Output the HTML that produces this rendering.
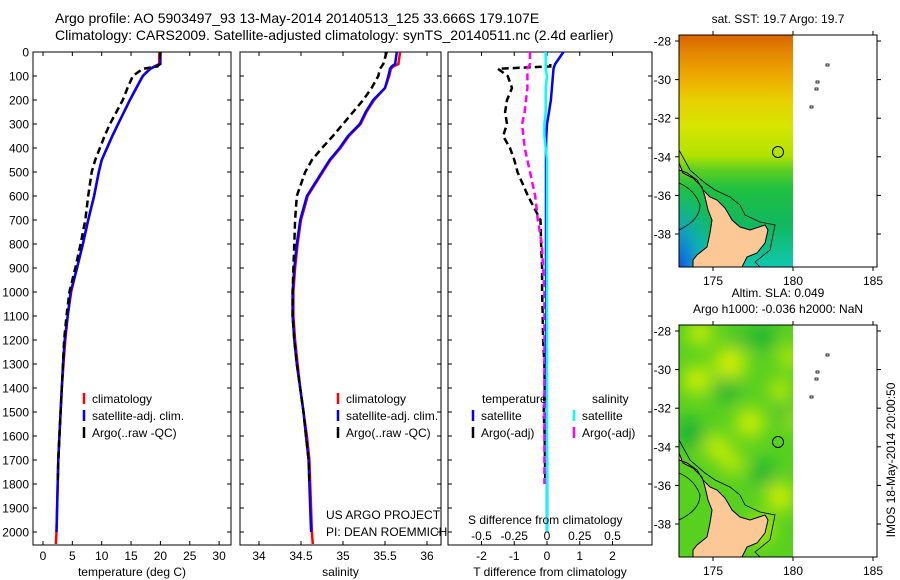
<!DOCTYPE html>
<html><head><meta charset="utf-8"><style>
html,body{margin:0;padding:0;background:#fff;}
svg{display:block;font-family:"Liberation Sans",sans-serif;}
text{font-size:12px;fill:#000;}
</style></head><body>
<svg id="fig" width="900" height="580" viewBox="0 0 900 580">
<defs>
<linearGradient id="sstGrad" x1="0" y1="0" x2="0" y2="1">
<stop offset="0" stop-color="#d86400"/><stop offset="0.08" stop-color="#e48800"/>
<stop offset="0.18" stop-color="#eeaa00"/><stop offset="0.28" stop-color="#e8d000"/>
<stop offset="0.40" stop-color="#d4e600"/><stop offset="0.52" stop-color="#b0e200"/>
<stop offset="0.58" stop-color="#60d020"/><stop offset="0.66" stop-color="#20c040"/>
<stop offset="0.82" stop-color="#10b860"/><stop offset="1" stop-color="#10c8b0"/>
</linearGradient>
<radialGradient id="blueCorner" cx="0" cy="1" r="0.35">
<stop offset="0" stop-color="#1050e8"/><stop offset="0.5" stop-color="#10a0d0" stop-opacity="0.7"/><stop offset="1" stop-color="#10c0b0" stop-opacity="0"/>
</radialGradient>
<filter id="blur"><feGaussianBlur stdDeviation="9"/></filter>
<clipPath id="clipTop"><rect x="679" y="35" width="114" height="232"/></clipPath>
<clipPath id="clipBot"><rect x="679" y="325" width="114" height="232"/></clipPath>
</defs>
<text x="55" y="23" style="font-size:14px">Argo profile: AO 5903497_93 13-May-2014 20140513_125 33.666S 179.107E</text>
<text x="55" y="40" style="font-size:14px">Climatology: CARS2009. Satellite-adjusted climatology: synTS_20140511.nc (2.4d earlier)</text>
<g id="panels"></g>
<g id="maps"></g>
</svg>
<script>
// ---- data ----
const depths =      [0,50,60,70,100,150,200,250,300,350,400,450,500,600,700,800,900,1000,1100,1200,1300,1400,1500,1600,1700,1800,1900,2000,2050];
const tempClim =    [19.8,19.8,19.0,18.2,17.0,15.9,14.8,13.8,12.8,11.8,10.9,10.0,9.5,8.7,7.7,6.8,5.8,4.8,4.2,3.8,3.5,3.2,3.0,2.8,2.6,2.5,2.4,2.3,2.2];
const tempSat =     [20.0,20.0,19.1,18.3,17.0,15.9,14.8,13.8,12.8,11.8,10.9,10.0,9.5,8.7,7.7,6.8,5.8,4.7,4.2,3.7,3.4,3.2,3.0,2.8,2.6,2.5,2.4,2.3,null];
const tempArgo =    [20.0,19.9,19.5,17.0,15.3,14.4,13.6,12.5,11.4,10.5,9.7,8.9,8.3,7.7,7.2,6.4,5.5,4.5,4.0,3.6,3.4,3.2,3.0,2.8,2.6,2.5,null,null,null];
const salClim =     [35.68,35.66,35.6,35.57,35.55,35.5,35.37,35.28,35.21,35.07,34.97,34.85,34.76,34.58,34.5,34.46,34.43,34.41,34.41,34.43,34.46,34.49,34.53,34.57,34.6,34.61,34.62,34.63,34.64];
const salSat =      [35.64,35.62,35.58,35.56,35.54,35.5,35.36,35.27,35.2,35.06,34.96,34.84,34.75,34.57,34.49,34.45,34.42,34.4,34.4,34.42,34.45,34.49,34.53,34.56,34.59,34.6,34.61,34.62,null];
const salArgo =     [35.52,35.48,35.46,35.44,35.42,35.34,35.24,35.12,35.0,34.88,34.75,34.63,34.55,34.45,34.43,34.42,34.41,34.4,34.4,34.42,34.45,34.49,34.53,34.56,34.59,34.6,null,null,null];
const tDiffSat =    [0.5,0.25,0.22,0.2,0.18,0.15,0.12,0.06,0.0,-0.02,-0.03,-0.03,-0.03,-0.03,-0.03,-0.03,-0.03,-0.02,-0.02,-0.02,-0.02,-0.01,-0.01,-0.01,0,0,0,0,null];
const tDiffArgo =   [null,0.1,0.1,-1.5,-1.2,-1.07,-1.22,-1.28,-1.22,-1.34,-1.13,-1.0,-0.9,-0.58,-0.2,-0.18,-0.15,-0.15,-0.13,-0.12,-0.08,-0.07,-0.1,-0.07,-0.06,-0.05,null,null,null];
const sDiffSat =    [-0.01,-0.01,-0.01,-0.01,0.0,-0.01,-0.01,-0.01,-0.02,-0.02,-0.01,0,0,0,0,0,0,0,0,0,0,0,0,0,0,0,0,0,null];
const sDiffArgo =   [-0.13,-0.13,-0.14,-0.15,-0.15,-0.15,-0.16,-0.17,-0.19,-0.18,-0.17,-0.15,-0.13,-0.09,-0.07,-0.04,-0.03,-0.02,-0.02,-0.02,-0.02,-0.02,-0.02,-0.02,-0.02,-0.02,null,null,null];
const depthTicks = [0,100,200,300,400,500,600,700,800,900,1000,1100,1200,1300,1400,1500,1600,1700,1800,1900,2000];
const tempTicks = [0,5,10,15,20,25,30];
const salTicks = [34,34.5,35,35.5,36];
const tDiffTicks = [-2,-1,0,1,2];
const sDiffTicks = [-0.5,-0.25,0,0.25,0.5];
const lonTicks = [175,180,185];
const latTicks = [-28,-30,-32,-34,-36,-38];

const NS="http://www.w3.org/2000/svg";
function mk(tag,attrs,parent,txt){const e=document.createElementNS(NS,tag);for(const k in attrs)e.setAttribute(k,attrs[k]);if(txt!==undefined)e.textContent=txt;parent.appendChild(e);return e;}
const yD = d => 52 + d*0.24;
const panelsG=document.getElementById('panels');

function panel(name,x0,x1,xs,ticks,tickFmt,xlabel,showY){
  const g=mk('g',{},panelsG);
  
  
  const r=mk('rect',{x:x0,y:52,width:x1-x0,height:493,fill:'none',stroke:'#000','stroke-width':1},g);
  
  
  ticks.forEach(t=>{const x=xs(t);
    mk('line',{x1:x,y1:52,x2:x,y2:56,stroke:'#000'},g);
    mk('line',{x1:x,y1:545,x2:x,y2:541,stroke:'#000'},g);
    const tl=mk('text',{x:x,y:560,'text-anchor':'middle'},g,tickFmt(t));
    
    
  });
  const xl=mk('text',{x:(x0+x1)/2,y:576,'text-anchor':'middle'},g,xlabel);
  
  
  depthTicks.forEach(d=>{const y=yD(d);
    mk('line',{x1:x0,y1:y,x2:x0+4,y2:y,stroke:'#000'},g);
    mk('line',{x1:x1,y1:y,x2:x1-4,y2:y,stroke:'#000'},g);
    if(showY){const t=mk('text',{x:29,y:y+4.5,'text-anchor':'end'},g,String(d));
      
      }
  });
  return g;
}
function series(g,name,vals,xs,color,dash,w){
  let d='';let pen=false;
  depths.forEach((dp,i)=>{const v=vals[i];if(v===null||v===undefined){pen=false;return;}
    d+=(pen?'L':'M')+xs(v).toFixed(1)+' '+yD(dp).toFixed(1)+' ';pen=true;});
  const p=mk('path',{d:d,fill:'none',stroke:color,'stroke-width':w||2.5,'stroke-dasharray':dash||'none'},g);
  
  
}
function legend(g,x,y,color,label){
  mk('line',{x1:x,y1:y-10,x2:x,y2:y+1,stroke:color,'stroke-width':2.5},g);
  const t=mk('text',{x:x+8,y:y},g,label);
  
  
}
// Panel 1
const xT=v=>43+v*5.87;
const p1=panel('temperature-panel',33,231,xT,tempTicks,String,'temperature (deg C)',true);
series(p1,'temp-climatology-line',tempClim,xT,'#f00');
series(p1,'temp-satellite-line',tempSat,xT,'#00f');
series(p1,'temp-argo-line',tempArgo,xT,'#000','7,4');
legend(p1,84,403,'#f00','climatology');legend(p1,84,420,'#00f','satellite-adj. clim.');legend(p1,84,437,'#000','Argo(..raw -QC)');
// Panel 2
const xS=v=>259+(v-34)*84;
const p2=panel('salinity-panel',240,441,xS,salTicks,String,'salinity',false);
series(p2,'sal-climatology-line',salClim,xS,'#f00');
series(p2,'sal-satellite-line',salSat,xS,'#00f');
series(p2,'sal-argo-line',salArgo,xS,'#000','7,4');
legend(p2,338,403,'#f00','climatology');legend(p2,338,420,'#00f','satellite-adj. clim.');legend(p2,338,437,'#000','Argo(..raw -QC)');
mk('text',{x:326,y:519},p2,'US ARGO PROJECT');mk('text',{x:326,y:536},p2,'PI: DEAN ROEMMICH');
// Panel 3
const xTd=v=>547+v*32.75;
const xSd=v=>547+v*131;
const p3=panel('difference-panel',448,652,xTd,tDiffTicks,String,'T difference from climatology',false);
series(p3,'tdiff-argo-line',tDiffArgo,xTd,'#000','7,4');
series(p3,'sdiff-argo-line',sDiffArgo,xSd,'#f0f','7,4');
series(p3,'tdiff-satellite-line',tDiffSat,xTd,'#00f');
series(p3,'sdiff-satellite-line',sDiffSat,xSd,'#0ff');
mk('text',{x:482,y:403},p3,'temperature');mk('text',{x:592,y:403},p3,'salinity');
legend(p3,473,420,'#00f','satellite');legend(p3,473,437,'#000','Argo(-adj)');
legend(p3,574,420,'#0ff','satellite');legend(p3,574,437,'#f0f','Argo(-adj)');
mk('text',{x:468,y:524},p3,'S difference from climatology');
sDiffTicks.forEach(t=>{const tl=mk('text',{x:xSd(t),y:540,'text-anchor':'middle'},p3,String(t));
  
  });

// ---- maps ----
const mapsG=document.getElementById('maps');
const landPts=[[679,163],[683,173],[693,178],[702,187],[705,197],[708,210],[712,220],[710,233],[707,247],[697,255],[693,260],[693,267],[742,267],[747,257],[757,253],[765,243],[768,230],[765,225],[750,230],[740,227],[732,220],[728,213],[725,208],[717,200],[710,197],[703,190],[697,180],[687,173],[679,170]];
const lonX=l=>713+(l-175)*16;
function drawMap(name,y0,fillFn,title1,title2){
  const off=y0-35;
  const g=mk('g',{},mapsG);
  
  
  const cg=mk('g',{'clip-path':'url(#'+(off?'clipBot':'clipTop')+')'},g);
  fillFn(cg,y0);
  mk('path',{d:'M679 150 L690 170 L705 183 L715 190 L730 197 L740 205 L745 215 L760 222 L775 225 L770 250 L755 262 L760 267 L679 267 Z',transform:'translate(0,'+off+')',fill:'none',stroke:'#000','stroke-width':0.8},cg);
  const land=mk('polygon',{points:landPts.map(p=>p[0]+','+(p[1]+off)).join(' '),fill:'#fcc896',stroke:'#000','stroke-width':1},cg);
  
  
  mk('path',{d:'M679 230 Q700 220 700 205 Q695 190 679 183',transform:'translate(0,'+off+')',fill:'none',stroke:'#000','stroke-width':0.8},cg);
  const fr=mk('rect',{x:679,y:y0,width:198,height:232,fill:'none',stroke:'#000'},g);
  
  
  const c=mk('circle',{cx:778,cy:152+off,r:5.5,fill:'none',stroke:'#000','stroke-width':1},g);
  
  
  [[827,65],[817,82],[816,89],[811,107]].forEach(p=>mk('rect',{x:p[0]-1,y:p[1]+off-1,width:3,height:2,fill:'none',stroke:'#000','stroke-width':0.8},g));
  lonTicks.forEach(l=>{const x=lonX(l);
    mk('line',{x1:x,y1:y0,x2:x,y2:y0-4,stroke:'#000'},g);
    mk('line',{x1:x,y1:y0+232,x2:x,y2:y0+236,stroke:'#000'},g);
    const t=mk('text',{x:x,y:y0+250,'text-anchor':'middle'},g,String(l));
    
    });
  latTicks.forEach(l=>{const y=41+(-28-l)*19.3+off;
    mk('line',{x1:679,y1:y,x2:675,y2:y,stroke:'#000'},g);
    mk('line',{x1:877,y1:y,x2:881,y2:y,stroke:'#000'},g);
    const t=mk('text',{x:671,y:y+4.5,'text-anchor':'end'},g,String(l));
    
    });
  if(title2){mk('text',{x:778,y:y0-28,'text-anchor':'middle'},g,title1);mk('text',{x:778,y:y0-12,'text-anchor':'middle'},g,title2);}
  else mk('text',{x:778,y:y0-12,'text-anchor':'middle'},g,title1);
}
drawMap('sst-map',35,(g,y0)=>{
  mk('rect',{x:679,y:y0,width:114,height:232,fill:'url(#sstGrad)'},g);
  mk('rect',{x:679,y:y0,width:114,height:232,fill:'url(#blueCorner)'},g);
},'sat. SST: 19.7 Argo: 19.7');
drawMap('sla-map',325,(g,y0)=>{
  mk('rect',{x:679,y:y0,width:114,height:232,fill:'#58d020'},g);
  const bg=mk('g',{filter:'url(#blur)'},g);
  [[730,363,16],[697,380,14],[750,423,14],[717,447,12],[780,390,10],[790,357,10],[780,497,14],[733,463,10],[700,333,12],[760,530,12],[792,420,8]].forEach(b=>mk('circle',{cx:b[0],cy:b[1],r:b[2],fill:'#d8f000'},bg));
  [[763,337,12],[727,390,12],[690,433,14],[763,473,12],[783,413,8],[740,340,8]].forEach(b=>mk('circle',{cx:b[0],cy:b[1],r:b[2],fill:'#10b038'},bg));
},'Altim. SLA: 0.049','Argo h1000: -0.036 h2000: NaN');
const ts=mk('text',{x:0,y:0,transform:'translate(895,460) rotate(-90)','text-anchor':'middle'},mapsG,'IMOS 18-May-2014 20:00:50');


</script>
</body></html>
